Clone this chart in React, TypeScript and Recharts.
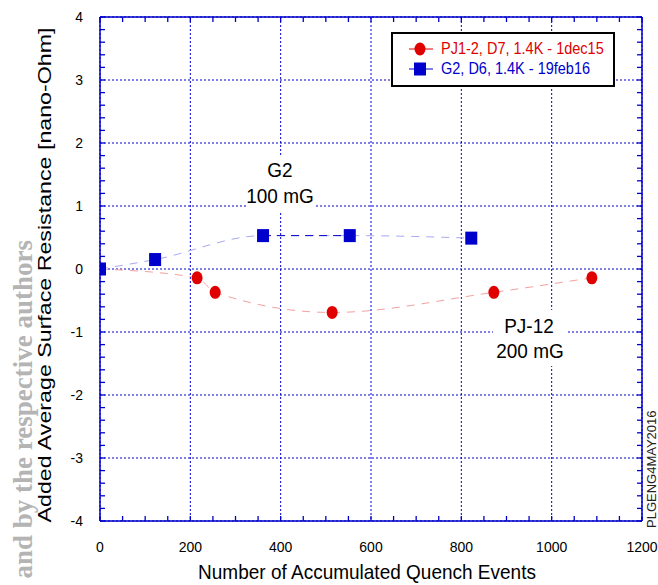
import { LineChart, Line, XAxis, YAxis, CartesianGrid } from 'recharts'

// PJ1-2 (red circles)
const redX = [0, 215, 255, 514, 872, 1089]
const redY = [0, -0.14, -0.37, -0.69, -0.37, -0.14]
// G2 (blue squares)
const blueX = [0, 122, 361, 553, 822]
const blueY = [0, 0.15, 0.53, 0.53, 0.49]
// dark dashed link between the two middle G2 points
const linkX = [361, 553]
const linkY = [0.53, 0.53]

const xLabels = [0, 200, 400, 600, 800, 1000, 1200]
const yLabels = [-4, -3, -2, -1, 0, 1, 2, 3, 4]
const xGrid = [200, 400, 600, 800, 1000]
const yGrid = [-3, -2, -1, 0, 1, 2, 3]
const xMinor = Array.from({ length: 25 }, (_, i) => i * 50)
const yMinor = Array.from({ length: 41 }, (_, i) => Math.round((-4 + i * 0.2) * 10) / 10)

const redData = redX.map((x, i) => ({ x, y: redY[i] }))
const blueData = blueX.map((x, i) => ({ x, y: blueY[i] }))
const linkData = linkX.map((x, i) => ({ x, y: linkY[i] }))

const BLUE = '#0000cc'
const RED = '#e00000'
const FONT = '"Liberation Sans", Arial, sans-serif'

// the original figure is slightly stretched vertically, so text is too
const SText = ({ x, y, sy = 1.1, children, ...rest }: any) => (
  <text transform={`translate(${x} ${y}) scale(1 ${sy})`} fontFamily={FONT} {...rest}>{children}</text>
)

const BottomTick = ({ x, y, payload }: any) => (
  <g>
    <line x1={x} y1={y} x2={x} y2={y - 5} stroke={BLUE} strokeWidth={1.3} />
    {xLabels.includes(payload.value) && (
      <SText x={x} y={y + 31} textAnchor='middle' fontSize={14} fill='#000'>{payload.value}</SText>
    )}
  </g>
)
const TopTick = ({ x, y }: any) => <line x1={x} y1={y} x2={x} y2={y + 5} stroke={BLUE} strokeWidth={1.3} />
const LeftTick = ({ x, y, payload }: any) => (
  <g>
    <line x1={x} y1={y} x2={x + 5} y2={y} stroke={BLUE} strokeWidth={1.3} />
    {yLabels.includes(payload.value) && (
      <SText x={x - 17} y={y + 5} textAnchor='end' fontSize={14} fill='#000'>{payload.value}</SText>
    )}
  </g>
)
const RightTick = ({ x, y }: any) => <line x1={x} y1={y} x2={x - 5} y2={y} stroke={BLUE} strokeWidth={1.3} />

const RedDot = ({ cx, cy }: any) => <ellipse cx={cx} cy={cy} rx={5.5} ry={6.5} fill={RED} />
const BlueDot = ({ cx, cy }: any) => <rect x={cx - 6} y={cy - 6.5} width={12} height={13} fill={BLUE} />

const Overlay = () => (
  <g fontFamily={FONT}>
    {/* annotations */}
    <rect x={247} y={155} width={68} height={57} fill='#fff' />
    <SText x={280} y={177} textAnchor='middle' fontSize={19}>G2</SText>
    <SText x={280} y={203} textAnchor='middle' fontSize={19}>100 mG</SText>
    <rect x={493} y={310} width={75} height={56} fill='#fff' />
    <SText x={529} y={333} textAnchor='middle' fontSize={19}>PJ-12</SText>
    <SText x={530} y={358} textAnchor='middle' fontSize={19}>200 mG</SText>

    {/* legend */}
    <rect x={392} y={33} width={222} height={53} fill='#fff' stroke='#000' strokeWidth={2} />
    <line x1={409} y1={49} x2={433} y2={49} stroke={RED} strokeWidth={1} />
    <ellipse cx={420} cy={49} rx={5.5} ry={6.5} fill={RED} />
    <SText x={441} y={54} fontSize={14.5} fill={RED}>PJ1-2, D7, 1.4K - 1dec15</SText>
    <line x1={409} y1={69} x2={433} y2={69} stroke={BLUE} strokeWidth={1} />
    <rect x={414} y={62.5} width={12} height={13} fill={BLUE} />
    <SText x={441} y={74} fontSize={14.5} fill={BLUE}>G2, D6, 1.4K - 19feb16</SText>

    {/* axis titles */}
    <SText x={367} y={579} textAnchor='middle' fontSize={19}>Number of Accumulated Quench Events</SText>
    <text x={51} y={275} transform='rotate(-90 51 275)' textAnchor='middle' fontSize={19} textLength={495} lengthAdjust='spacingAndGlyphs'>
      Added Average Surface Resistance [nano-Ohm]
    </text>

    {/* side marks */}
    <text x={32} y={240} transform='rotate(-90 32 240)' textAnchor='end' fontSize={27} fontWeight='bold' fontFamily='"Liberation Serif", serif' fill='#b4b4b4'>
      CC-BY-3.0 and by the respective authors
    </text>
    <text x={656} y={528} transform='rotate(-90 656 528)' fontSize={13} fill='#222'>PLGENG4MAY2016</text>
  </g>
)

export default function App() {
  return (
    <div style={{ position: 'absolute', left: 0, top: 0, background: '#fff' }}>
      <LineChart width={658} height={585} margin={{ top: 0, right: 0, bottom: 0, left: 0 }}>
        <XAxis xAxisId='b' dataKey='x' type='number' domain={[0, 1200]} ticks={xMinor} interval={0} allowDataOverflow
          tickSize={0} tickMargin={0} tickLine={false} height={64} tick={<BottomTick />}
          axisLine={{ stroke: BLUE, strokeWidth: 1.5 }} />
        <XAxis xAxisId='t' orientation='top' dataKey='x' type='number' domain={[0, 1200]} ticks={xMinor} interval={0} allowDataOverflow
          tickSize={0} tickMargin={0} tickLine={false} height={17} tick={<TopTick />}
          axisLine={{ stroke: BLUE, strokeWidth: 1.5 }} />
        <YAxis yAxisId='l' type='number' domain={[-4, 4]} ticks={yMinor} interval={0} allowDataOverflow
          tickSize={0} tickMargin={0} tickLine={false} width={100} tick={<LeftTick />}
          axisLine={{ stroke: BLUE, strokeWidth: 1.5 }} />
        <YAxis yAxisId='r' orientation='right' type='number' domain={[-4, 4]} ticks={yMinor} interval={0} allowDataOverflow
          tickSize={0} tickMargin={0} tickLine={false} width={16} tick={<RightTick />}
          axisLine={{ stroke: BLUE, strokeWidth: 1.5 }} />

        {/* hidden axes that only carry the major grid positions */}
        <XAxis xAxisId='g' dataKey='x' type='number' domain={[0, 1200]} ticks={xGrid} interval={0} allowDataOverflow hide height={0} />
        <YAxis yAxisId='g' type='number' domain={[-4, 4]} ticks={yGrid} interval={0} allowDataOverflow hide width={0} />
        <CartesianGrid xAxisId='g' yAxisId='g' stroke={BLUE} strokeDasharray='2 2' />

        <Line xAxisId='b' yAxisId='l' data={redData} dataKey='y' type='monotone' stroke='#f4a0a0'
          strokeDasharray='8 7' dot={<RedDot />} activeDot={false} isAnimationActive={false} />
        <Line xAxisId='b' yAxisId='l' data={blueData} dataKey='y' type='monotone' stroke='#a8a8f4'
          strokeDasharray='8 7' dot={<BlueDot />} activeDot={false} isAnimationActive={false} />
        <Line xAxisId='b' yAxisId='l' data={linkData} dataKey='y' type='linear' stroke={BLUE}
          strokeDasharray='8 6' dot={false} activeDot={false} isAnimationActive={false} />

        <Overlay />
      </LineChart>
    </div>
  )
}
